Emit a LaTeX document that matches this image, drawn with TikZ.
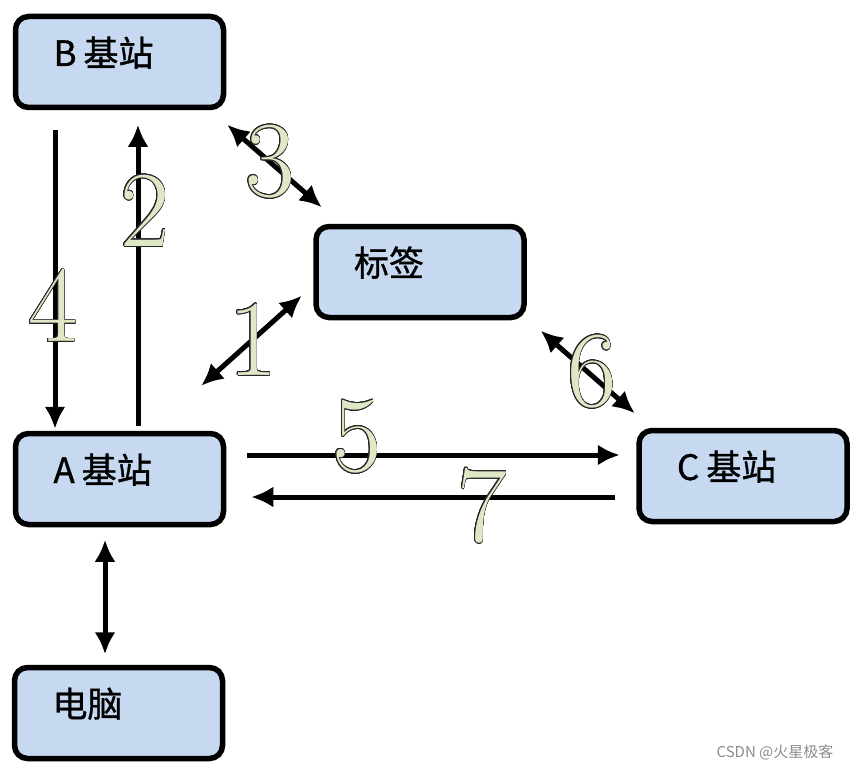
\documentclass[tikz,border=0pt]{standalone}
\usepackage{fontspec}
\usepackage{contour}
\usepackage{tikz}
\usetikzlibrary{arrows.meta}
\newfontfamily\cjk[FakeBold=1]{Noto Sans CJK SC}
\newfontfamily\cjkmark{Noto Sans CJK SC}
\definecolor{boxblue}{RGB}{198,217,241}
\definecolor{numgreen}{RGB}{222,231,198}
\contourlength{0.7pt}
\contournumber{24}

\tikzset{
  box/.style={draw, line width=5.5pt, rounded corners=13pt, fill=boxblue,
    minimum width=208pt, minimum height=91pt, inner sep=0pt,
    text width=132pt, align=left, text height=22pt, text depth=14pt,
    font=\cjk\fontsize{35}{35}\selectfont},
  arr/.style={line width=5pt, -{Latex[length=22pt,width=21pt]}},
  biarr/.style={line width=5pt, {Latex[length=22pt,width=21pt]}-{Latex[length=22pt,width=21pt]}},
  num/.style={inner sep=0pt, text=numgreen, font=\fontsize{108}{108}\selectfont}
}
\newcommand{\numtxt}[1]{\contour{black!85}{#1}}

\begin{document}
\begin{tikzpicture}[x=1pt, y=-1pt]
 \useasboundingbox (0,0) rectangle (859,773);
 % stations
 \node[box] (B)   at (119.5,62)  {B\kern7pt基站};
 \node[box] (tag) at (420,272)   {标签};
 \node[box] (A)   at (119.5,479) {A\kern7pt基站};
 \node[box] (C)   at (743,476)   {C\kern7pt基站};
 \node[box] (pc)  at (118.5,713) {电脑};

 % links
 \draw[arr] ([xshift=-64.5pt,yshift=-19.5pt]B.south) -- ([xshift=-64.5pt,yshift=2pt]A.north);
 \draw[arr] ([xshift=18.5pt,yshift=5pt]A.north) -- ([xshift=18.5pt,yshift=-14.5pt]B.south);
 \draw[biarr] ([xshift=1pt,yshift=-14.5pt]B.south east) -- ([xshift=8.5pt,yshift=16.5pt]tag.north west);
 \draw[biarr] ([xshift=-25pt,yshift=45pt]A.north east) -- ([xshift=-11.5pt,yshift=24.5pt]tag.south west);
 \draw[biarr] ([xshift=14pt,yshift=-10.5pt]tag.south east) -- ([xshift=-1.5pt,yshift=14.5pt]C.north west);
 \draw[arr] ([xshift=21pt,yshift=24pt]A.east) -- ([xshift=-16.5pt,yshift=21pt]C.west);
 \draw[arr] ([xshift=-21.5pt,yshift=-21pt]C.west) -- ([xshift=25pt,yshift=-18pt]A.east);
 \draw[biarr] ([xshift=-14.5pt,yshift=-12.5pt]A.south) -- ([xshift=-13.5pt,yshift=10.5pt]pc.north);

 % step numbers
 \node[num] (n1) at (253,340) {\numtxt{1}};
 \node[num] (n2) at (145,211) {\numtxt{2}};
 \node[num] (n3) at (270,162) {\numtxt{3}};
 \node[num] (n4) at (53,306)  {\numtxt{4}};
 \node[num] (n5) at (357,437) {\numtxt{5}};
 \node[num] (n6) at (592,372) {\numtxt{6}};
 \node[num] (n7) at (482,506) {\numtxt{7}};

 \node[text=black!45, font=\cjkmark\fontsize{15}{15}\selectfont] (mark) at (775,752) {CSDN @火星极客};
\end{tikzpicture}
\end{document}
